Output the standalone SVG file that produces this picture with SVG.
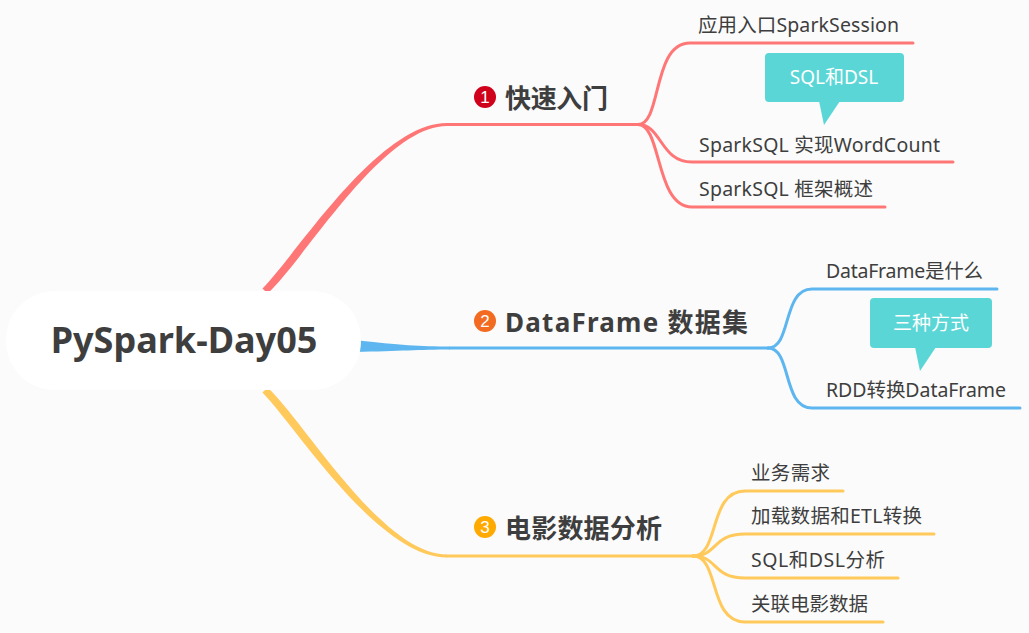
<svg xmlns="http://www.w3.org/2000/svg" width="1029" height="633" viewBox="0 0 1029 633">
<style>
.bg{fill:#fbfbfb}
.red{stroke:#ff7676;fill:none;stroke-width:3;stroke-linecap:round}
.blue{stroke:#5db6ef;fill:none;stroke-width:3;stroke-linecap:round}
.yel{stroke:#ffc95b;fill:none;stroke-width:3;stroke-linecap:round}
.t{font-family:"Noto Sans","Noto Sans CJK SC",sans-serif;fill:#3e3e3e}
.sub{font-size:19.5px}
.main{font-size:26px;font-weight:bold}
.num{font-family:"Liberation Sans",sans-serif;font-size:17px;fill:#fff;text-anchor:middle}
.call{fill:#5bd6d6}
.ct{font-family:"Noto Sans","Noto Sans CJK SC",sans-serif;font-size:19px;fill:#fff;text-anchor:middle}
</style>
<rect class="bg" x="0" y="0" width="1029" height="633"/>
<g id="connectors">
  <path d="M262.5,288.5 C297,254 378,123 447,123 L447,126 C382,126 304,261 267.5,293.5 Z" fill="#ff7676"/>
  <path class="red" d="M447,124.5 L638,124.5"/>
  <path class="red" d="M638,124.5 C662,124.5 652,43 690,43 L913,43"/>
  <path class="red" d="M638,124.5 C662,124.5 660,162 692,162 L953,162"/>
  <path class="red" d="M638,124.5 C662,124.5 655,207 692,207 L885,207"/>
  <path d="M355,340 C400,345 420,346.5 450,346.5 L450,349.5 C420,349.5 400,351 355,352 Z" fill="#5db6ef"/>
  <path class="blue" d="M450,348 L768,348"/>
  <path class="blue" d="M768,348 C792,348 782,289 812,289 L997,289"/>
  <path class="blue" d="M768,348 C792,348 782,408 812,408 L1020,408"/>
  <path d="M267.5,387.5 C304,421 382,554.5 447,554.5 L447,557.5 C378,557.5 297,428 262.5,392.5 Z" fill="#ffc95b"/>
  <path class="yel" d="M447,556 L693,556"/>
  <path class="yel" d="M693,556 C720,556 708,491 745,491 L843,491"/>
  <path class="yel" d="M693,556 C718,556 712,534 745,534 L934,534"/>
  <path class="yel" d="M693,556 C718,556 712,578 745,578 L898,578"/>
  <path class="yel" d="M693,556 C720,556 708,622 745,622 L883,622"/>
</g>
<g id="root">
  <rect x="6" y="291" width="355" height="99" rx="49" fill="#ffffff"/>
  <text class="t" x="184" y="353" font-size="36" font-weight="bold" text-anchor="middle">PySpark-Day05</text>
</g>
<g id="topic1">
  <circle cx="485" cy="97" r="11" fill="#d0021b"/>
  <text class="num" x="485" y="103">1</text>
  <text class="t main" x="505" y="108" textLength="103" lengthAdjust="spacing">快速入门</text>
</g>
<g id="topic2">
  <circle cx="485" cy="321" r="11" fill="#f26b21"/>
  <text class="num" x="485" y="327">2</text>
  <text class="t main" x="505" y="332" font-size="27" textLength="243" lengthAdjust="spacing">DataFrame 数据集</text>
</g>
<g id="topic3">
  <circle cx="485" cy="527" r="11" fill="#ffaa00"/>
  <text class="num" x="485" y="533">3</text>
  <text class="t main" x="505" y="538" textLength="157" lengthAdjust="spacing">电影数据分析</text>
</g>
<g id="n1a"><text class="t sub" x="698" y="32" textLength="201" lengthAdjust="spacing">应用入口SparkSession</text></g>
<g id="n1b"><text class="t sub" x="699" y="152" textLength="241" lengthAdjust="spacing">SparkSQL 实现WordCount</text></g>
<g id="n1c"><text class="t sub" x="699" y="196" textLength="174" lengthAdjust="spacing">SparkSQL 框架概述</text></g>
<g id="n2a"><text class="t sub" x="826" y="278" textLength="157" lengthAdjust="spacing">DataFrame是什么</text></g>
<g id="n2b"><text class="t sub" x="826" y="397" textLength="180" lengthAdjust="spacing">RDD转换DataFrame</text></g>
<g id="n3a"><text class="t sub" x="751" y="480" textLength="79" lengthAdjust="spacing">业务需求</text></g>
<g id="n3b"><text class="t sub" x="751" y="523" textLength="171" lengthAdjust="spacing">加载数据和ETL转换</text></g>
<g id="n3c"><text class="t sub" x="751" y="567" textLength="134" lengthAdjust="spacing">SQL和DSL分析</text></g>
<g id="n3d"><text class="t sub" x="751" y="611" textLength="117" lengthAdjust="spacing">关联电影数据</text></g>
<g id="callout1">
  <rect class="call" x="765" y="53" width="139" height="49" rx="4"/>
  <polygon class="call" points="819,101 840,101 824,125"/>
  <text class="ct" x="834" y="84">SQL和DSL</text>
</g>
<g id="callout2">
  <rect class="call" x="870" y="298" width="122" height="50" rx="4"/>
  <polygon class="call" points="915,347 936,347 920,371"/>
  <text class="ct" x="931" y="330">三种方式</text>
</g>
</svg>
